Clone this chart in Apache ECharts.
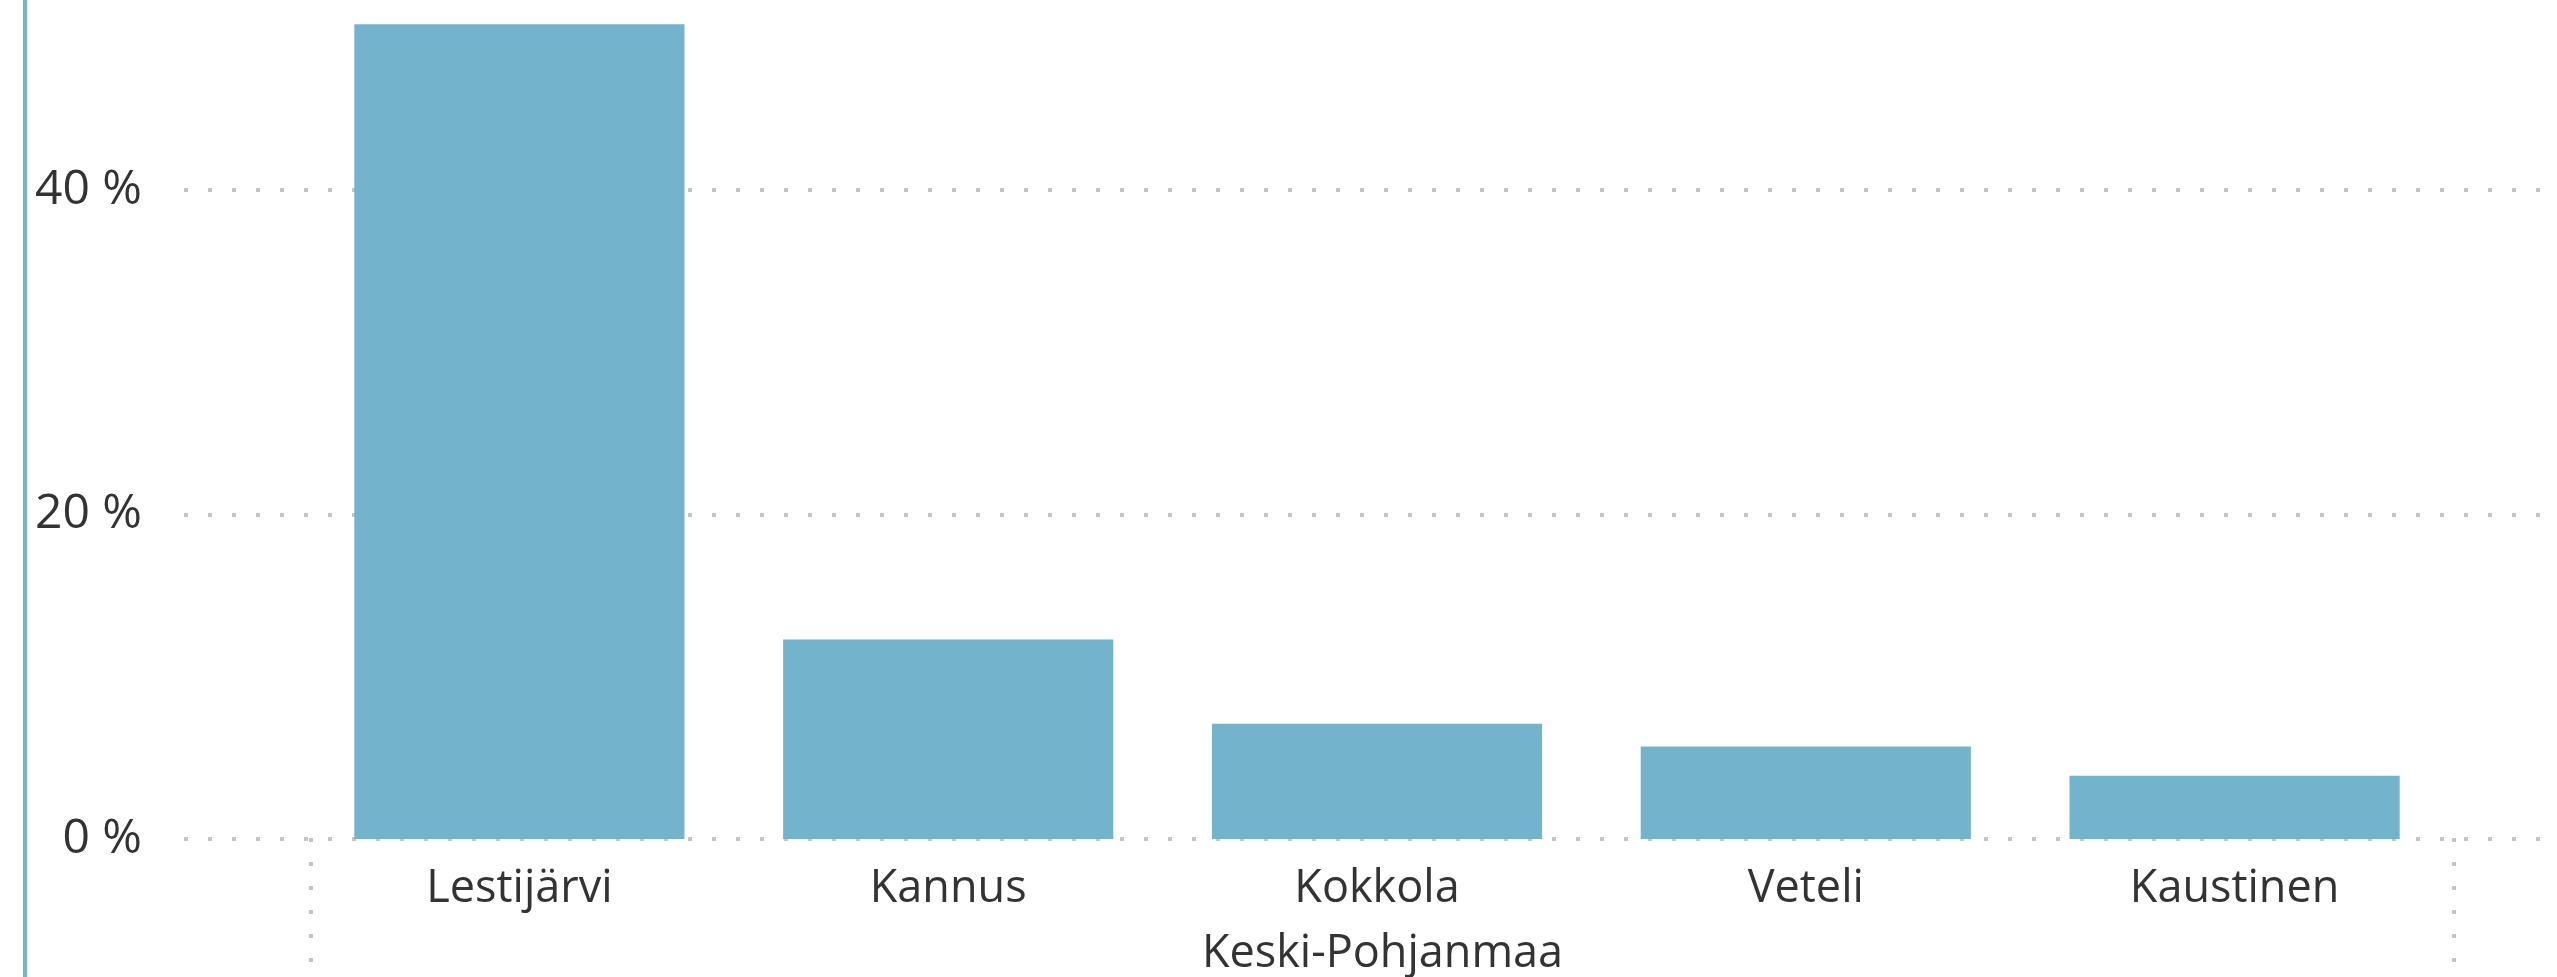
<!DOCTYPE html>
<html>
<head>
<meta charset="utf-8">
<title>Keski-Pohjanmaa</title>
<script src="https://cdn.jsdelivr.net/npm/echarts@6/dist/echarts.min.js"></script>
<style>
  html, body { margin: 0; padding: 0; background: #fff; }
  #chart { width: 2557px; height: 977px; }
</style>
</head>
<body>
<div id="chart"></div>
<script>
// data
const municipalities = ['Lestijärvi', 'Kannus', 'Kokkola', 'Veteli', 'Kaustinen']
const region = ['Keski-Pohjanmaa']
const shares = [50.2, 12.3, 7.1, 5.7, 3.9]
const yTicks = [0, 20, 40]

const barColor = '#74b3cc'
const textColor = '#333333'
const gridColor = '#c4c4c4'
const fontFamily = '"Segoe UI", "Open Sans", sans-serif'
const yMax = 51.7

const chart = echarts.init(document.getElementById('chart'))

const option = {
  animation: false,
  graphic: [
    {
      // visual border on the left edge
      type: 'rect',
      left: 23,
      top: 0,
      shape: { width: 4, height: 977 },
      style: { fill: barColor }
    }
  ],
  grid: [
    // wide grid: y labels + dotted gridlines
    { left: 184, right: 9, top: 0, bottom: 138 },
    // bars
    { left: 305, right: 108, top: 0, bottom: 138 },
    // region group (separators + label)
    { left: 311, right: 103, top: 0, bottom: 138 }
  ],
  xAxis: [
    { type: 'value', gridIndex: 0, show: false },
    {
      type: 'category',
      gridIndex: 1,
      data: municipalities,
      axisLine: { show: false },
      axisTick: { show: false },
      axisLabel: {
        margin: 28,
        color: textColor,
        fontFamily: fontFamily,
        fontSize: 45
      }
    },
    {
      type: 'category',
      gridIndex: 2,
      position: 'bottom',
      offset: 8,
      data: region,
      axisLine: { show: false },
      axisTick: {
        show: true,
        length: 135,
        lineStyle: { color: gridColor, width: 4, type: [4, 20] }
      },
      axisLabel: {
        margin: 86,
        color: textColor,
        fontFamily: fontFamily,
        fontSize: 45
      }
    }
  ],
  yAxis: [
    {
      type: 'value',
      gridIndex: 0,
      min: 0,
      max: yMax,
      interval: 20,
      axisLine: { show: false },
      axisTick: { show: false },
      axisLabel: {
        margin: 42,
        showMaxLabel: false,
        color: textColor,
        fontFamily: fontFamily,
        fontSize: 48,
        formatter: function (value) {
          return yTicks.indexOf(value) >= 0 ? value + ' %' : ''
        }
      },
      splitLine: {
        show: true,
        showMaxLine: false,
        lineStyle: { color: gridColor, width: 4, type: [4, 20] }
      }
    },
    { type: 'value', gridIndex: 1, min: 0, max: yMax, show: false },
    { type: 'value', gridIndex: 2, min: 0, max: yMax, show: false }
  ],
  series: [
    {
      type: 'bar',
      xAxisIndex: 1,
      yAxisIndex: 1,
      data: shares,
      barWidth: '77%',
      itemStyle: { color: barColor }
    }
  ]
}

chart.setOption(option)
</script>
</body>
</html>
